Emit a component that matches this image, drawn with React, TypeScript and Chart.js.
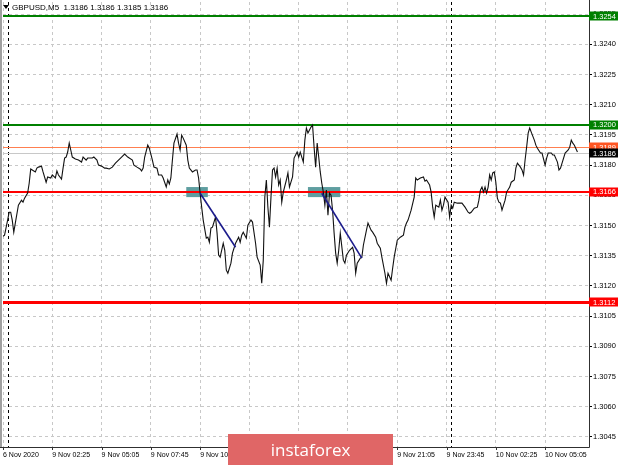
import React, { useEffect, useRef } from "react";
import { Chart, registerables } from "chart.js";
Chart.register(...registerables);

const symbolTitle = "GBPUSD,M5";
const titleQuotes = ["1.3186", "1.3186", "1.3185", "1.3186"];

const barIndex = [
  0, 1, 3, 4, 5, 6, 7, 8, 10, 12, 13, 14, 16, 17, 18, 19, 21, 22, 23, 25, 26, 28, 29, 31, 32, 34, 35, 36, 38, 39,
  40, 41, 42, 43, 44, 45, 47, 49, 51, 52, 54, 55, 58, 59, 61, 62, 64, 66, 67, 69, 71, 73, 75, 77, 79, 81, 84, 85, 87, 89,
  90, 91, 92, 94, 95, 97, 98, 100, 101, 103, 104, 106, 107, 108, 109, 110, 111, 113, 114, 115, 116, 117, 119, 120, 121, 123, 125, 126, 127, 128,
  129, 130, 132, 133, 134, 135, 136, 138, 139, 140, 141, 143, 144, 145, 146, 148, 149, 151, 153, 154, 155, 156, 158, 159, 161, 162, 164, 165, 167, 168,
  169, 170, 171, 172, 173, 174, 175, 176, 177, 178, 179, 180, 181, 182, 184, 185, 186, 188, 189, 191, 192, 193, 194, 195, 196, 197, 198, 200, 201, 202,
  203, 204, 205, 206, 207, 208, 209, 210, 211, 212, 213, 214, 215, 216, 217, 218, 219, 221, 222, 223, 225, 227, 228, 229, 230, 232, 233, 234, 236, 237,
  239, 240, 242, 243, 245, 246, 248, 249, 250, 252, 253, 254, 256, 258, 260, 261, 262, 263, 265, 267, 268, 269, 271, 273, 274, 275, 277, 278, 279, 280,
  281, 283, 284, 285, 286, 287, 289, 290, 291, 292, 293, 295, 298, 300, 302, 303, 304, 306, 308, 309, 310, 311, 312, 313, 314, 315, 316, 317, 318, 319,
  320, 321, 322, 323, 324, 326, 327, 329, 330, 332, 333, 334, 336, 337, 338, 339, 340, 341, 342, 343, 345, 346, 347, 349, 350, 352, 353, 354, 356, 357,
  358, 360, 361, 362, 363, 365, 367, 368, 369, 370, 371, 373,
];

const closes = [
  1.31447, 1.31452, 1.31527, 1.31566, 1.31566, 1.31527, 1.31467, 1.31512, 1.31601, 1.31626, 1.31616, 1.31636, 1.31661, 1.3171, 1.31781, 1.31776, 1.31766, 1.31785, 1.3179, 1.31795, 1.31766, 1.31715, 1.31741, 1.31736, 1.31751, 1.31736, 1.31771, 1.31751, 1.3173, 1.31785,
  1.31835, 1.3184, 1.31865, 1.31909, 1.31875, 1.3184, 1.3183, 1.31825, 1.31815, 1.3184, 1.31825, 1.31835, 1.31835, 1.3184, 1.31825, 1.318, 1.31795, 1.31785, 1.31785, 1.31781, 1.3179, 1.3181, 1.31825, 1.3184, 1.31855, 1.3184, 1.31825, 1.318, 1.3179, 1.31781,
  1.31771, 1.31785, 1.3184, 1.31899, 1.31884, 1.31825, 1.3179, 1.31785, 1.31751, 1.31751, 1.31736, 1.31691, 1.31726, 1.31706, 1.31736, 1.31825, 1.31909, 1.31954, 1.31909, 1.31875, 1.31949, 1.31934, 1.31899, 1.31825, 1.31785, 1.31766, 1.31776, 1.31776, 1.31736, 1.31661,
  1.31591, 1.31527, 1.31437, 1.31442, 1.31417, 1.31487, 1.31492, 1.31542, 1.31462, 1.31353, 1.31343, 1.31412, 1.31377, 1.31278, 1.31263, 1.31313, 1.31363, 1.31412, 1.31442, 1.31417, 1.31452, 1.31467, 1.31437, 1.31502, 1.31527, 1.31517, 1.31412, 1.31343, 1.31303, 1.31213,
  1.31328, 1.31641, 1.31726, 1.31591, 1.31492, 1.31641, 1.31776, 1.31785, 1.31741, 1.31785, 1.31701, 1.31726, 1.31616, 1.31666, 1.31726, 1.31761, 1.31691, 1.31741, 1.31835, 1.31865, 1.3184, 1.31865, 1.3184, 1.31815, 1.31924, 1.31984, 1.31959, 1.31989, 1.31999, 1.31889,
  1.3179, 1.31909, 1.3184, 1.31766, 1.3171, 1.31666, 1.31601, 1.31676, 1.31551, 1.31661, 1.31651, 1.31576, 1.31462, 1.31363, 1.31313, 1.31377, 1.31462, 1.31328, 1.31313, 1.31353, 1.31377, 1.31392, 1.31363, 1.31263, 1.31313, 1.31338, 1.31343, 1.31402, 1.31477, 1.31512,
  1.31477, 1.31467, 1.31442, 1.31412, 1.31387, 1.31343, 1.31263, 1.31213, 1.31263, 1.31228, 1.31288, 1.31343, 1.31427, 1.31442, 1.31452, 1.31492, 1.31512, 1.31527, 1.31576, 1.31641, 1.31736, 1.31726, 1.31736, 1.31741, 1.3172, 1.31726, 1.31701, 1.31666, 1.31591, 1.31542,
  1.31601, 1.31591, 1.31626, 1.31576, 1.31601, 1.31641, 1.31616, 1.31542, 1.31601, 1.31586, 1.31616, 1.31611, 1.31611, 1.31591, 1.31566, 1.31561, 1.31566, 1.31586, 1.31591, 1.31626, 1.31676, 1.31691, 1.31666, 1.31691, 1.31661, 1.31691, 1.31751, 1.31726, 1.31761, 1.31766,
  1.31715, 1.31636, 1.31616, 1.31611, 1.31576, 1.31626, 1.31666, 1.31691, 1.31715, 1.31726, 1.31785, 1.3181, 1.3179, 1.31776, 1.31751, 1.31825, 1.31889, 1.31959, 1.31984, 1.31964, 1.31924, 1.31899, 1.31884, 1.3186, 1.3186, 1.318, 1.31835, 1.3186, 1.3186, 1.3185,
  1.3185, 1.31815, 1.31776, 1.31785, 1.3181, 1.3186, 1.31875, 1.31889, 1.31924, 1.31909, 1.31899, 1.31865,
];

const timeTickBars = [0, 32, 64, 96, 128, 160, 192, 224, 256, 288, 320, 352];
const timeTickLabels = [
  "6 Nov 2020", "9 Nov 02:25", "9 Nov 05:05", "9 Nov 07:45", "9 Nov 10:25", "9 Nov 13:05",
  "9 Nov 15:45", "9 Nov 18:25", "9 Nov 21:05", "9 Nov 23:45", "10 Nov 02:25", "10 Nov 05:05",
];
const priceTicks = [
  1.3045, 1.306, 1.3075, 1.309, 1.3105, 1.312, 1.3135, 1.315, 1.3165, 1.318, 1.3195, 1.321, 1.3225, 1.324, 1.3255,
];
const daySeparatorBars = [3, 291];

const levelPrices = [1.3254, 1.32, 1.31668, 1.3112];
const levelLabels = ["1.3254", "1.3200", "1.3166", "1.3112"];
const levelColors = ["#008000", "#008000", "#ff0000", "#ff0000"];
const levelWidths = [2, 2, 2, 3];
const askPrice = 1.3189;
const bidPrice = 1.3186;

const zoneStartBars = [119, 198];
const zoneEndBars = [133, 219];
const zoneLow = 1.31641;
const zoneHigh = 1.31691;

const trendStartBars = [128, 207];
const trendStartPrices = [1.3166, 1.3166];
const trendEndBars = [151, 233];
const trendEndPrices = [1.31392, 1.31338];

const FONT = "'Liberation Sans', Arial, sans-serif";

export default function App() {
  const ref = useRef<HTMLCanvasElement>(null);
  useEffect(() => {
    document.body.style.margin = "0";
    const canvas = ref.current;
    if (!canvas) return;

    const overlay = {
      id: "mt4overlay",
      beforeDatasetsDraw(chart: any) {
        const { ctx, chartArea: a, scales } = chart;
        const xs = scales.x, ys = scales.y;
        ctx.save();
        ctx.beginPath();
        ctx.rect(a.left, a.top, a.right - a.left, a.bottom - a.top);
        ctx.clip();
        ctx.fillStyle = "#5f9ea0";
        for (let i = 0; i < zoneStartBars.length; i++) {
          const x1 = xs.getPixelForValue(zoneStartBars[i]);
          const x2 = xs.getPixelForValue(zoneEndBars[i]);
          const y1 = ys.getPixelForValue(zoneHigh);
          const y2 = ys.getPixelForValue(zoneLow);
          ctx.fillRect(x1, y1, x2 - x1, y2 - y1);
        }
        ctx.strokeStyle = "#000";
        ctx.lineWidth = 1;
        ctx.setLineDash([3, 3]);
        for (const b of daySeparatorBars) {
          const x = Math.round(xs.getPixelForValue(b)) + 0.5;
          ctx.beginPath();
          ctx.moveTo(x, a.top);
          ctx.lineTo(x, a.bottom);
          ctx.stroke();
        }
        ctx.setLineDash([]);
        const hline = (p: number, color: string, w: number) => {
          const y = Math.round(ys.getPixelForValue(p)) + (w % 2 ? 0.5 : 0);
          ctx.strokeStyle = color;
          ctx.lineWidth = w;
          ctx.beginPath();
          ctx.moveTo(a.left, y);
          ctx.lineTo(a.right, y);
          ctx.stroke();
        };
        hline(bidPrice, "#c8c8c8", 1);
        hline(askPrice, "#ff7f50", 1);
        for (let i = 0; i < levelPrices.length; i++) hline(levelPrices[i], levelColors[i], levelWidths[i]);
        ctx.restore();
      },
      afterDraw(chart: any) {
        const { ctx, chartArea: a, scales } = chart;
        const ys = scales.y, xs = scales.x;
        ctx.save();
        ctx.fillStyle = "#a0a0a0";
        ctx.fillRect(0, 0, 2, a.bottom);
        ctx.strokeStyle = "#303030";
        ctx.lineWidth = 1;
        ctx.beginPath();
        ctx.moveTo(a.right + 0.5, 0);
        ctx.lineTo(a.right + 0.5, a.bottom + 0.5);
        ctx.lineTo(0, a.bottom + 0.5);
        ctx.stroke();
        ctx.beginPath();
        for (const b of timeTickBars) {
          const x = Math.round(xs.getPixelForValue(b)) + 0.5;
          ctx.moveTo(x, a.bottom);
          ctx.lineTo(x, a.bottom + 3);
        }
        ctx.stroke();
        ctx.font = `7.5px ${FONT}`;
        ctx.textBaseline = "middle";
        ctx.textAlign = "left";
        const tag = (p: number, text: string, bg: string, fg: string) => {
          const y = ys.getPixelForValue(p);
          ctx.fillStyle = bg;
          ctx.fillRect(a.right, Math.round(y) - 4.5, 29, 9);
          ctx.fillStyle = fg;
          ctx.fillText(text, a.right + 4, y + 0.5);
        };
        for (let i = 0; i < levelPrices.length; i++) tag(levelPrices[i], levelLabels[i], levelColors[i], "#fff");
        tag(askPrice, askPrice.toFixed(4), "#ff5522", "#fff");
        tag(bidPrice, bidPrice.toFixed(4), "#000", "#fff");
        ctx.fillStyle = "#000";
        ctx.beginPath();
        ctx.moveTo(3, 5);
        ctx.lineTo(9, 5);
        ctx.lineTo(6, 9);
        ctx.closePath();
        ctx.fill();
        ctx.font = `8px ${FONT}`;
        ctx.fillText(symbolTitle + "  " + titleQuotes.join(" "), 12, 7.5);
        ctx.fillStyle = "#e06666";
        ctx.fillRect(228, 434, 165, 31);
        ctx.fillStyle = "#fff";
        ctx.font = `17px 'Open Sans', sans-serif`;
        ctx.textAlign = "center";
        ctx.textBaseline = "alphabetic";
        ctx.fillText("instaforex", 310.5, 456);
        ctx.restore();
      },
    };

    const chart = new Chart(canvas, {
      type: "line",
      data: {
        datasets: [
          ...trendStartBars.map((b, i) => ({
            data: [
              { x: b, y: trendStartPrices[i] },
              { x: trendEndBars[i], y: trendEndPrices[i] },
            ],
            borderColor: "#1c1c8c",
            borderWidth: 1.6,
            pointRadius: 0,
            order: 0,
          })),
          {
            data: barIndex.map((b, i) => ({ x: b, y: closes[i] })),
            borderColor: "#111",
            borderWidth: 1.1,
            pointRadius: 0,
            tension: 0,
            order: 1,
          },
        ],
      },
      options: {
        responsive: false,
        animation: false,
        events: [],
        layout: { padding: { left: 3, top: 2, right: 0, bottom: 0 } },
        plugins: { legend: { display: false }, tooltip: { enabled: false }, title: { display: false } },
        scales: {
          x: {
            type: "linear",
            min: 0,
            max: 380.5,
            afterBuildTicks: (s: any) => {
              s.ticks = timeTickBars.map((v) => ({ value: v }));
            },
            afterFit: (s: any) => {
              s.height = 18;
              s.paddingLeft = 0;
              s.paddingRight = 0;
              s.paddingTop = 0;
              s.paddingBottom = 0;
            },
            ticks: {
              autoSkip: false,
              maxRotation: 0,
              minRotation: 0,
              align: "start",
              padding: 1,
              color: "#000",
              font: { family: FONT, size: 7 },
              callback: (v: any) => {
                const i = timeTickBars.indexOf(Number(v));
                return i >= 0 ? timeTickLabels[i] : "";
              },
            },
            grid: { color: "#c8c8c8", drawTicks: true, tickLength: 3, tickColor: "rgba(0,0,0,0)", tickBorderDash: [] },
            border: { display: false, dash: [3, 3] },
          },
          y: {
            type: "linear",
            position: "right",
            min: 1.304,
            max: 1.3261,
            afterBuildTicks: (s: any) => {
              s.ticks = priceTicks.map((v) => ({ value: v }));
            },
            afterFit: (s: any) => {
              s.width = 31;
              s.paddingTop = 0;
              s.paddingBottom = 0;
              s.paddingLeft = 0;
              s.paddingRight = 0;
            },
            ticks: {
              autoSkip: false,
              padding: 1,
              color: "#000",
              font: { family: FONT, size: 7.5 },
              callback: (v: any) => Number(v).toFixed(4),
            },
            grid: { color: "#c8c8c8", drawTicks: true, tickLength: 3, tickColor: "#000", tickBorderDash: [] },
            border: { display: false, dash: [3, 3] },
          },
        },
      },
      plugins: [overlay],
    } as any);
    return () => chart.destroy();
  }, []);
  return (
    <div style={{ width: 620, height: 465 }}>
      <canvas ref={ref} width={620} height={465} style={{ display: "block" }} />
    </div>
  );
}
